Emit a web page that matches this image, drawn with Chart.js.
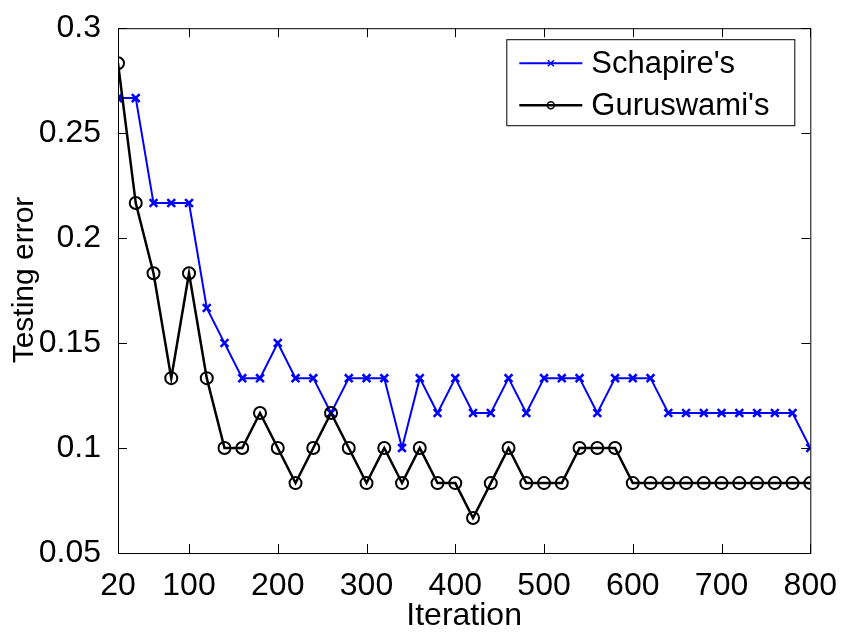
<!DOCTYPE html>
<html>
<head>
<meta charset="utf-8">
<script src="https://cdn.jsdelivr.net/npm/chart.js@4.4.0/dist/chart.umd.min.js"></script>
<style>
  html, body { margin: 0; padding: 0; background: #fff; }
  #wrap { width: 843px; height: 632px; }
</style>
</head>
<body>
<div id="wrap"><canvas id="errorChart" width="843" height="632"></canvas></div>
<script>
const iterations = [20, 40, 60, 80, 100, 120, 140, 160, 180, 200,
    220, 240, 260, 280, 300, 320, 340, 360, 380, 400,
    420, 440, 460, 480, 500, 520, 540, 560, 580, 600,
    620, 640, 660, 680, 700, 720, 740, 760, 780, 800];

const schapireError = [0.2667, 0.2667, 0.2167, 0.2167, 0.2167, 0.1667, 0.15, 0.1333, 0.1333, 0.15,
    0.1333, 0.1333, 0.1167, 0.1333, 0.1333, 0.1333, 0.1, 0.1333, 0.1167, 0.1333,
    0.1167, 0.1167, 0.1333, 0.1167, 0.1333, 0.1333, 0.1333, 0.1167, 0.1333, 0.1333,
    0.1333, 0.1167, 0.1167, 0.1167, 0.1167, 0.1167, 0.1167, 0.1167, 0.1167, 0.1];

const guruswamiError = [0.2833, 0.2167, 0.1833, 0.1333, 0.1833, 0.1333, 0.1, 0.1, 0.1167, 0.1,
    0.0833, 0.1, 0.1167, 0.1, 0.0833, 0.1, 0.0833, 0.1, 0.0833, 0.0833,
    0.0667, 0.0833, 0.1, 0.0833, 0.0833, 0.0833, 0.1, 0.1, 0.1, 0.0833,
    0.0833, 0.0833, 0.0833, 0.0833, 0.0833, 0.0833, 0.0833, 0.0833, 0.0833, 0.0833];

const xTicks = [20, 100, 200, 300, 400, 500, 600, 700, 800];
const yTicks = [0.05, 0.1, 0.15, 0.2, 0.25, 0.3];
const seriesNames = ["Schapire's", "Guruswami's"];
const yTitle = 'Testing error';

const FONT = "'Liberation Sans', Arial, sans-serif";

// matlab style box with inward ticks on all four sides
const framePlugin = {
    id: 'frame',
    afterDatasetsDraw(chart) {
        const { ctx, chartArea: a, scales } = chart;
        const len = 9;
        ctx.save();
        ctx.strokeStyle = '#000';
        ctx.lineWidth = 1;
        ctx.strokeRect(a.left + 0.5, a.top + 0.5, a.right - a.left, a.bottom - a.top);
        ctx.beginPath();
        xTicks.forEach(v => {
            const px = Math.round(scales.x.getPixelForValue(v)) + 0.5;
            ctx.moveTo(px, a.bottom); ctx.lineTo(px, a.bottom - len);
            ctx.moveTo(px, a.top); ctx.lineTo(px, a.top + len);
        });
        yTicks.forEach(v => {
            const py = Math.round(scales.y.getPixelForValue(v)) + 0.5;
            ctx.moveTo(a.left, py); ctx.lineTo(a.left + len, py);
            ctx.moveTo(a.right, py); ctx.lineTo(a.right - len, py);
        });
        ctx.stroke();
        ctx.restore();
    },
    afterDraw(chart) {
        const { ctx, chartArea: a } = chart;

        // y axis title, sits a bit above the axis middle like in the original
        ctx.save();
        ctx.translate(25, 280);
        ctx.rotate(-Math.PI / 2);
        ctx.font = '30px ' + FONT;
        ctx.fillStyle = '#000';
        ctx.textAlign = 'center';
        ctx.textBaseline = 'middle';
        ctx.fillText(yTitle, 0, 0);
        ctx.restore();

        // legend box in the upper right corner
        const boxLeft = a.right - 304, boxTop = a.top + 11, boxW = 288, boxH = 86;
        ctx.save();
        ctx.fillStyle = '#fff';
        ctx.fillRect(boxLeft, boxTop, boxW, boxH);
        ctx.strokeStyle = '#000';
        ctx.lineWidth = 1;
        ctx.strokeRect(boxLeft + 0.5, boxTop + 0.5, boxW, boxH);
        ctx.font = '31px ' + FONT;
        ctx.textBaseline = 'middle';
        ctx.textAlign = 'left';
        chart.data.datasets.forEach((ds, i) => {
            const y = boxTop + 24 + i * 42;
            const x0 = boxLeft + 13, x1 = boxLeft + 76;
            ctx.strokeStyle = ds.borderColor;
            ctx.lineWidth = ds.borderWidth;
            ctx.beginPath();
            ctx.moveTo(x0, y); ctx.lineTo(x1, y);
            ctx.stroke();
            const mx = (x0 + x1) / 2;
            ctx.lineWidth = 1.5;
            ctx.beginPath();
            if (ds.pointStyle === 'circle') {
                ctx.arc(mx, y, 3.5, 0, Math.PI * 2);
            } else {
                ctx.moveTo(mx - 3, y - 3); ctx.lineTo(mx + 3, y + 3);
                ctx.moveTo(mx - 3, y + 3); ctx.lineTo(mx + 3, y - 3);
            }
            ctx.stroke();
            ctx.fillStyle = '#000';
            ctx.fillText(ds.label, boxLeft + 85, y + 1);
        });
        ctx.restore();
    }
};

const chartConfig = {
    type: 'line',
    data: {
        datasets: [{
            label: seriesNames[0],
            data: iterations.map((x, i) => ({ x: x, y: schapireError[i] })),
            borderColor: '#0000ff',
            backgroundColor: '#0000ff',
            borderWidth: 2,
            pointStyle: 'crossRot',
            pointRadius: 5.5,
            pointBorderWidth: 2.5,
            tension: 0,
            order: 1
        }, {
            label: seriesNames[1],
            data: iterations.map((x, i) => ({ x: x, y: guruswamiError[i] })),
            borderColor: '#000000',
            backgroundColor: 'rgba(0,0,0,0)',
            borderWidth: 2.5,
            pointStyle: 'circle',
            pointRadius: 6,
            pointBorderWidth: 2,
            tension: 0,
            order: 0
        }]
    },
    options: {
        responsive: false,
        animation: false,
        layout: { padding: { left: 0, right: 32, top: 22, bottom: 0 } },
        plugins: {
            legend: { display: false },
            tooltip: { enabled: false }
        },
        scales: {
            x: {
                type: 'linear',
                min: 20,
                max: 800,
                grid: { display: false },
                border: { display: false },
                afterBuildTicks: scale => { scale.ticks = xTicks.map(v => ({ value: v })); },
                afterFit: scale => { scale.height = 79; },
                ticks: {
                    color: '#000',
                    padding: 6,
                    maxRotation: 0,
                    autoSkip: false,
                    font: { family: FONT, size: 32 },
                    callback: v => String(v)
                },
                title: {
                    display: true,
                    text: 'Iteration',
                    color: '#000',
                    font: { family: FONT, size: 32, lineHeight: 1 },
                    padding: { top: 0, bottom: 0 }
                }
            },
            y: {
                min: 0.05,
                max: 0.3,
                grid: { display: false },
                border: { display: false },
                afterBuildTicks: scale => { scale.ticks = yTicks.map(v => ({ value: v })); },
                afterFit: scale => { scale.width = 118; },
                ticks: {
                    color: '#000',
                    padding: 9,
                    font: { family: FONT, size: 32 },
                    callback: v => String(Number(v.toFixed(2)))
                }
            }
        }
    },
    plugins: [framePlugin]
};

const errorChart = new Chart(document.getElementById('errorChart').getContext('2d'), chartConfig);
</script>
</body>
</html>
